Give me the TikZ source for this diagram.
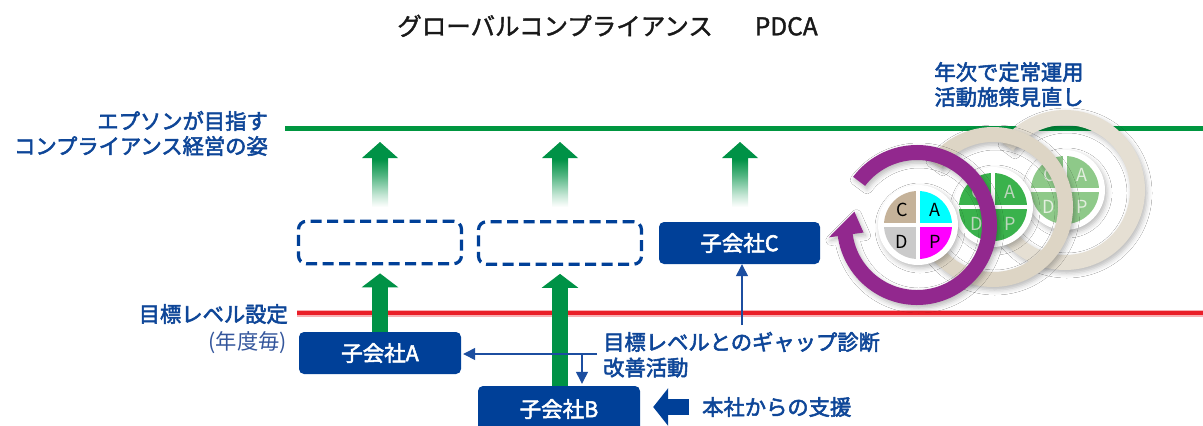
\documentclass[tikz,border=0pt]{standalone}
\usepackage{fontspec}
\setmainfont{Noto Sans CJK JP}
\newfontfamily\jpmedium{Noto Sans CJK JP}[FakeBold=2.5]
\newfontfamily\jptitle{Noto Sans CJK JP}[FakeBold=1.5]
\usetikzlibrary{arrows.meta,shadows.blur}

\definecolor{navy}{RGB}{0,64,152}
\definecolor{labelblue}{RGB}{14,70,152}
\definecolor{softblue}{RGB}{52,86,156}
\definecolor{thinblue}{RGB}{28,78,160}
\definecolor{linegreen}{RGB}{0,150,64}
\definecolor{arrowgreen}{RGB}{0,146,70}
\definecolor{linered}{RGB}{234,30,40}
\definecolor{cyclepurple}{RGB}{146,40,142}
\definecolor{ringbeige}{RGB}{221,213,197}
\definecolor{ringbeigelight}{RGB}{229,223,211}
\definecolor{qtan}{RGB}{197,178,153}
\definecolor{qgray}{RGB}{202,202,202}
\definecolor{qcyan}{RGB}{0,255,255}
\definecolor{qmagenta}{RGB}{255,0,255}
\definecolor{qgreen}{RGB}{58,178,76}
\definecolor{qgreenlight}{RGB}{142,201,137}
\definecolor{lettergreen}{RGB}{188,214,188}
\definecolor{letterpale}{RGB}{226,238,222}
\colorlet{fadeone}{arrowgreen!22!white}
\colorlet{fadetwo}{arrowgreen!70!white}

% green fade for the upward arrows, white at the foot, solid at the head
\pgfdeclareverticalshading{arrowfade}{100bp}{color(0bp)=(white); color(25bp)=(white); color(34bp)=(fadeone); color(50bp)=(fadetwo); color(62bp)=(arrowgreen); color(100bp)=(arrowgreen)}

\tikzset{
  lbl/.style={inner sep=0pt, text=labelblue, font=\jpmedium\fontsize{21.3}{25}\selectfont,
    text height=17.9pt, text depth=1.7pt},
  lblsoft/.style={lbl, text=softblue, font=\rmfamily\fontsize{21.3}{25}\selectfont},
  headline/.style={inner sep=0pt, text={rgb,255:red,25;green,25;blue,25},
    font=\jptitle\fontsize{24.5}{28}\selectfont, text height=20.6pt, text depth=2pt},
  companybox/.style={rectangle, rounded corners=5pt, fill=navy, text=white,
    inner sep=0pt, minimum width=162pt, minimum height=42pt,
    font=\jpmedium\fontsize{21.5}{25}\selectfont, text height=18pt, text depth=1.7pt},
  ghostbox/.style={rectangle, rounded corners=8pt, draw=navy, line width=3.2pt,
    dash pattern=on 11pt off 5.5pt, inner sep=0pt, minimum width=163pt, minimum height=42.5pt},
  greenup/.style={draw=arrowgreen, line width=16pt, -{Triangle[width=36pt,length=14pt]}},
  navyblock/.style={draw=navy, line width=16pt, -{Triangle[width=37pt,length=15pt]}},
  thinarrow/.style={draw=thinblue, line width=1.3pt, -{Triangle[width=12pt,length=12pt]}},
  quadletter/.style={inner sep=0pt, font=\fontsize{18}{20}\selectfont},
  softshadow/.style={blur shadow={shadow xshift=2pt, shadow yshift=-3pt,
    shadow blur radius=5pt, shadow opacity=28}},
  fadearrow/.pic={
    \shade[shading=arrowfade] (-8,0) -- (-8,-49) -- (-18,-49) -- (0,-65)
      -- (18,-49) -- (8,-49) -- (8,0) -- cycle;
  }
}

% one turning band of the cycle, with its arrow head at the upper left
\newcommand\cyclering[2]{%
  \begin{scope}[shift={#1}, y=1pt]
    \fill[#2, softshadow] (143:80) arc[start angle=143, end angle=-172, radius=80]
      -- (-172:89) -- (168:64) -- (-172:54) -- (-172:65)
      arc[start angle=-172, end angle=143, radius=65] -- cycle;
  \end{scope}}

% a P-D-C-A disc: #1 centre, #2..#5 quarter colours (C, A, D, P), #6 letters, #7 name prefix
\newcommand\pdcawheel[7]{%
  \begin{scope}[shift={#1}, y=1pt]
    \fill[white, softshadow] (0,0) circle[radius=40];
    \fill[#2] (0,0) -- (90:34) arc[start angle=90, end angle=180, radius=34] -- cycle;
    \fill[#3] (0,0) -- (0:34) arc[start angle=0, end angle=90, radius=34] -- cycle;
    \fill[#4] (0,0) -- (180:34) arc[start angle=180, end angle=270, radius=34] -- cycle;
    \fill[#5] (0,0) -- (270:34) arc[start angle=270, end angle=360, radius=34] -- cycle;
    \draw[white, line width=4pt] (-36,0) -- (36,0) (0,-36) -- (0,36);
    \node[quadletter, text=#6] (#7C) at (-16,15) {C};
    \node[quadletter, text=#6] (#7A) at (17,15) {A};
    \node[quadletter, text=#6] (#7D) at (-16,-17) {D};
    \node[quadletter, text=#6] (#7P) at (17,-17) {P};
  \end{scope}}

\begin{document}
\begin{tikzpicture}[x=1pt, y=-1pt]
  \fill[white] (0,0) rectangle (1203,426);
  \useasboundingbox (0,0) rectangle (1203,426);

  % title
  \node[headline] (title) at (607.5,26) {グローバルコンプライアンス\hspace*{42pt}PDCA};

  % goal line and yearly target line
  \draw[linegreen, line width=5pt] (285,128) -- (1203,128);
  \draw[linered!35, line width=7pt] (297,313) -- (1203,313);
  \draw[linered, line width=4.5pt] (297,313) -- (1203,313);

  % level labels
  \node[lbl, anchor=east] (goal1) at (268,121) {エプソンが目指す};
  \node[lbl, anchor=east] (goal2) at (268,146) {コンプライアンス経営の姿};
  \node[lbl, anchor=east] (target) at (288,314) {目標レベル設定};
  \node[lblsoft, anchor=east] (yearly) at (287,341) {(年度毎)};

  % future states and subsidiaries
  \node[ghostbox] (ghostA) at (380,242.5) {};
  \node[ghostbox] (ghostB) at (560,243) {};
  \node[companybox, minimum width=161pt] (boxC) at (739.5,243) {子会社C};
  \node[companybox] (boxA) at (380,353) {子会社A};
  \node[companybox, minimum height=46pt] (boxB) at (559,409) {子会社B};

  % fading arrows towards the goal line
  \pic at (380,207) {fadearrow};
  \pic at (560,207) {fadearrow};
  \pic at (740,207) {fadearrow};

  % progress arrows
  \draw[greenup] (boxA.north) -- ([yshift=-8pt]ghostA.south);
  \draw[greenup] (boxB.north -| ghostB.south) -- ([yshift=-8pt]ghostB.south);

  % gap diagnosis and improvement
  \node[lbl, anchor=west] (gap1) at (603,342) {目標レベルとのギャップ診断};
  \node[lbl, anchor=west] (gap2) at (603,367.5) {改善活動};
  \coordinate (gapstart) at (597,354);
  \coordinate (gapsplit) at (582,354);
  \coordinate (cfoot) at (742,325);
  \draw[thinarrow] (gapstart) -- ([xshift=2pt]boxA.east |- gapstart);
  \draw[thinarrow] (gapsplit) -- ([yshift=2pt]gapsplit |- boxB.north);
  \draw[thinarrow] (cfoot) -- (cfoot |- boxC.south);

  % head office support
  \node[lbl, anchor=west] (support) at (702,407) {本社からの支援};
  \coordinate (supporttail) at (689,407);
  \draw[navyblock] (supporttail) -- ([xshift=13pt]boxB.east |- supporttail);

  % yearly review cycles
  \node[lbl] (review1) at (1009,72) {年次で定常運用};
  \node[lbl] (review2) at (1009,97) {活動施策見直し};

  \cyclering{(1065,190)}{ringbeigelight}
  \pdcawheel{(1065,190)}{qgreenlight}{qgreenlight}{qgreenlight}{qgreenlight}{letterpale}{wthree}
  \cyclering{(993,207)}{ringbeige}
  \pdcawheel{(993,207)}{qgreen}{qgreen}{qgreen}{qgreen}{lettergreen}{wtwo}
  \cyclering{(917,225)}{cyclepurple}
  \pdcawheel{(918,225)}{qtan}{qcyan}{qgray}{qmagenta}{black}{wone}
\end{tikzpicture}
\end{document}
